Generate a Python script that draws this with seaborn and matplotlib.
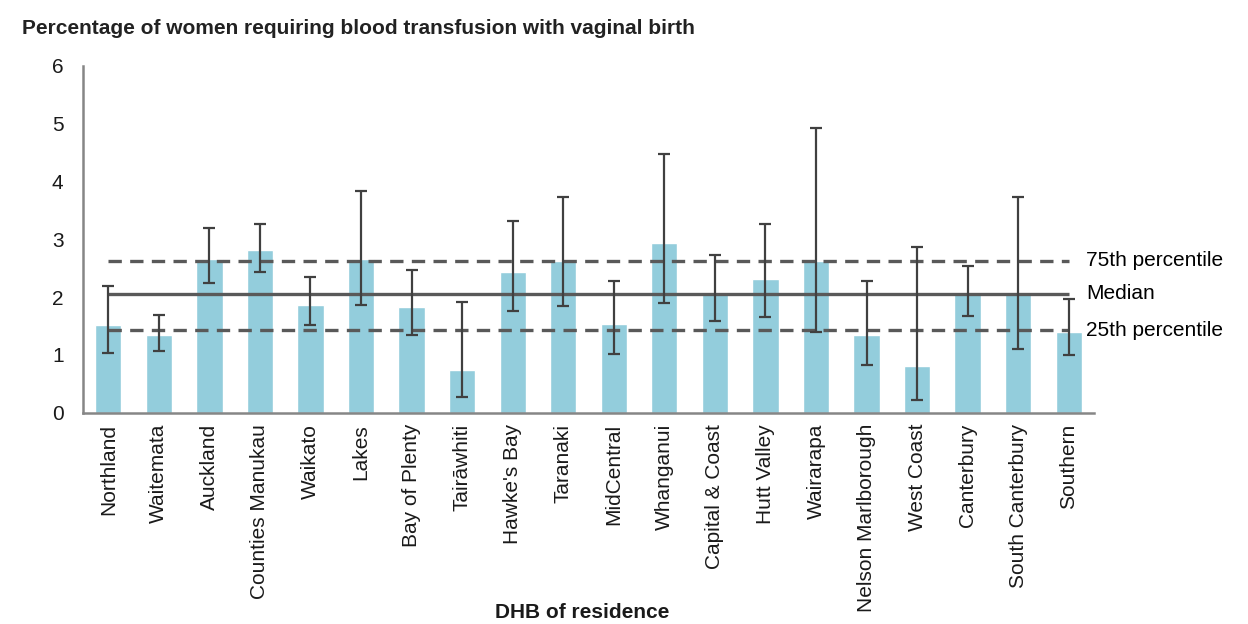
import matplotlib
matplotlib.use("Agg")
import matplotlib.pyplot as plt
import seaborn as sns
import pandas as pd
import numpy as np

categories = ["Northland", "Waitemata", "Auckland", "Counties Manukau", "Waikato",
              "Lakes", "Bay of Plenty", "Tairāwhiti", "Hawke's Bay", "Taranaki",
              "MidCentral", "Whanganui", "Capital & Coast", "Hutt Valley", "Wairarapa",
              "Nelson Marlborough", "West Coast", "Canterbury", "South Canterbury", "Southern"]
values = [1.51, 1.34, 2.66, 2.82, 1.87, 2.66, 1.82, 0.74, 2.43, 2.62,
          1.53, 2.93, 2.05, 2.32, 2.62, 1.35, 0.80, 2.05, 2.05, 1.39]
ci_low = [1.03, 1.07, 2.25, 2.44, 1.51, 1.86, 1.34, 0.28, 1.76, 1.84,
          1.01, 1.90, 1.59, 1.65, 1.39, 0.82, 0.22, 1.68, 1.11, 1.00]
ci_high = [2.19, 1.69, 3.19, 3.27, 2.34, 3.84, 2.47, 1.91, 3.32, 3.73,
           2.28, 4.47, 2.73, 3.26, 4.93, 2.28, 2.86, 2.53, 3.73, 1.96]
p75 = 2.63
median = 2.06
p25 = 1.43
ref_labels = ["75th percentile", "Median", "25th percentile"]
title = "Percentage of women requiring blood transfusion with vaginal birth"
xlabel = "DHB of residence"
yticks = [0, 1, 2, 3, 4, 5, 6]

sns.set_style("white")
plt.rcParams['font.family'] = ['Liberation Sans', 'DejaVu Sans']

df = pd.DataFrame({"DHB": categories, "pct": values})

fig = plt.figure(figsize=(12.48, 6.24), dpi=100)
ax = fig.add_axes([0.0665, 0.3386, 0.8101, 0.5561])

sns.barplot(data=df, x="DHB", y="pct", color="#93CDDC", saturation=1,
            width=0.52, ax=ax, errorbar=None)

x = np.arange(len(categories))
vals = np.array(values)
err = np.vstack([vals - np.array(ci_low), np.array(ci_high) - vals])
ax.errorbar(x, vals, yerr=err, fmt="none", ecolor="#404040", elinewidth=1.6,
            capsize=4.5, capthick=1.6, zorder=4)

line_color = "#595959"
n = len(categories)
ax.hlines(p75, 0, n - 1, colors=line_color, linestyles=(0, (4, 2.5)), linewidth=2.4, zorder=3)
ax.hlines(median, 0, n - 1, colors=line_color, linestyles="solid", linewidth=2.4, zorder=3)
ax.hlines(p25, 0, n - 1, colors=line_color, linestyles=(0, (4, 2.5)), linewidth=2.4, zorder=3)

for lab, yv in zip(ref_labels, [p75, median, p25]):
    ax.text(n - 1 + 0.35, yv, lab, va="center", ha="left",
            fontsize=15, color="#000000", clip_on=False)

ax.set_xlim(-0.5, n - 0.5)
ax.set_ylim(0, 6)
ax.set_yticks(yticks)
ax.set_yticklabels([str(t) for t in yticks], fontsize=15, color="#1a1a1a")

ax.set_xticks(x)
ax.set_xticklabels(categories, rotation=90, fontsize=15, color="#1a1a1a")
ax.tick_params(axis="x", which="major", length=0, pad=8)
ax.set_xticks(np.arange(-0.5, n, 1.0), minor=True)
ax.tick_params(axis="x", which="minor", length=6, width=1.5, color="#868686", direction="out")
ax.tick_params(axis="y", length=6, width=1.5, color="#868686", direction="out", pad=8)

for s in ["top", "right"]:
    ax.spines[s].set_visible(False)
for s in ["left", "bottom"]:
    ax.spines[s].set_color("#868686")
    ax.spines[s].set_linewidth(1.8)

ax.set_xlabel("")
ax.set_ylabel("")
fig.text(582 / 1248, 1 - 612 / 624, xlabel, fontsize=15, fontweight="bold",
         color="#1a1a1a", va="center", ha="center")
fig.text(22 / 1248, 1 - 28 / 624, title, fontsize=15, fontweight="bold",
         color="#222222", va="center", ha="left")

fig.savefig("out.png", dpi=100)
